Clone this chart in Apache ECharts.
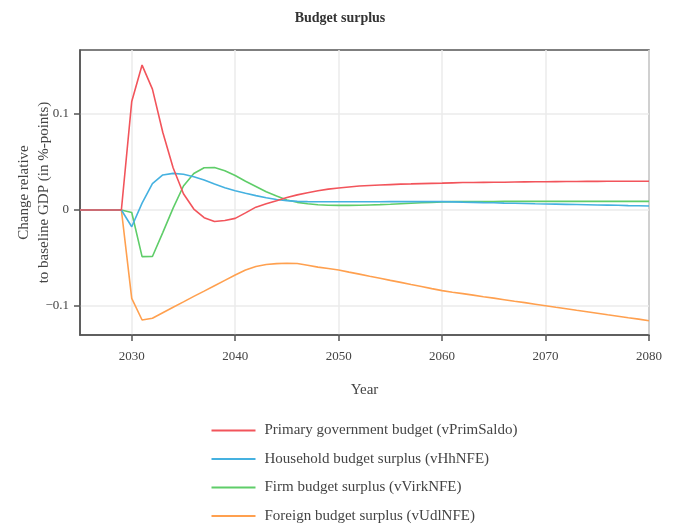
<!DOCTYPE html>
<html>
<head>
<meta charset="utf-8">
<title>Budget surplus</title>
<script src="https://cdn.jsdelivr.net/npm/echarts@6/dist/echarts.min.js"></script>
<style>
  html, body { margin: 0; padding: 0; background: #fff; }
  #chart { width: 680px; height: 527px; }
</style>
</head>
<body>
<div id="chart"></div>
<script>
// Annual model years 2025–2080
const years = [];
for (let y = 2025; y <= 2080; y++) years.push(y);

// Change relative to baseline GDP, %-points
const primSaldo = [
  0, 0, 0, 0, 0,
  0.113, 0.151, 0.126, 0.081, 0.044, 0.017, 0.001, -0.008, -0.012, -0.011,
  -0.0087, -0.003, 0.003, 0.0065, 0.0097, 0.013, 0.0158, 0.018, 0.020, 0.0218,
  0.023, 0.024, 0.025, 0.0255, 0.026, 0.0265, 0.027, 0.0272, 0.0275, 0.0278,
  0.028, 0.0283, 0.0286, 0.0287, 0.0288, 0.0289, 0.029, 0.0292, 0.0293, 0.0294,
  0.0295, 0.0296, 0.0297, 0.0297, 0.0298, 0.0298, 0.0299, 0.0299, 0.0299, 0.03,
  0.03
];
const hhNFE = [
  0, 0, 0, 0, 0,
  -0.0174, 0.0072, 0.0275, 0.0365, 0.0382, 0.0372, 0.0347, 0.0312, 0.027, 0.0233,
  0.0201, 0.0174, 0.015, 0.0128, 0.011, 0.0098, 0.009, 0.0087, 0.0086, 0.0086,
  0.0086, 0.0086, 0.0086, 0.0086, 0.0086, 0.0087, 0.0087, 0.0087, 0.0087, 0.0087,
  0.0087, 0.0085, 0.0082, 0.008, 0.0077, 0.0075, 0.0072, 0.007, 0.0068, 0.0065,
  0.0063, 0.0061, 0.0059, 0.0057, 0.0055, 0.0053, 0.0051, 0.0049, 0.0046, 0.0044,
  0.0042
];
const virkNFE = [
  0, 0, 0, 0, 0,
  -0.0026, -0.0486, -0.0484, -0.0235, 0.002, 0.025, 0.038, 0.0441, 0.0443, 0.041,
  0.036, 0.030, 0.0245, 0.019, 0.0145, 0.0105, 0.008, 0.0065, 0.0055, 0.005,
  0.0048, 0.0048, 0.005, 0.0053, 0.0056, 0.006, 0.0065, 0.007, 0.0075, 0.008,
  0.0085, 0.0087, 0.0088, 0.0088, 0.0089, 0.0089, 0.009, 0.009, 0.009, 0.009,
  0.009, 0.009, 0.009, 0.009, 0.009, 0.009, 0.009, 0.009, 0.009, 0.009,
  0.009
];
const udlNFE = [
  0, 0, 0, 0, 0,
  -0.092, -0.1146, -0.1128, -0.107, -0.1013, -0.0957, -0.090, -0.0845, -0.0789, -0.0733,
  -0.0677, -0.0625, -0.0588, -0.0568, -0.0558, -0.0555, -0.0557, -0.0575, -0.0595, -0.061,
  -0.0625, -0.0647, -0.0668, -0.069, -0.0711, -0.0733, -0.0754, -0.0776, -0.0797, -0.0819,
  -0.084, -0.0856, -0.0871, -0.0887, -0.0903, -0.0918, -0.0934, -0.095, -0.0965, -0.0981,
  -0.0997, -0.1013, -0.1028, -0.1044, -0.1059, -0.1075, -0.1091, -0.1106, -0.1122, -0.1137,
  -0.1153
];

const xTicks = [2030, 2040, 2050, 2060, 2070, 2080];
const yTicks = [-0.1, 0, 0.1];

const seriesNames = [
  'Primary government budget (vPrimSaldo)',
  'Household budget surplus (vHhNFE)',
  'Firm budget surplus (vVirkNFE)',
  'Foreign budget surplus (vUdlNFE)'
];
const seriesValues = [primSaldo, hhNFE, virkNFE, udlNFE];
const colors = ['#F2545B', '#45B1E0', '#5FCD69', '#FFA04F'];

const FONT = '"Liberation Serif", "Times New Roman", serif';
const TEXT = '#444';
const AXIS = '#555';

const chart = echarts.init(document.getElementById('chart'), null, { renderer: 'canvas' });

chart.setOption({
  animation: false,
  backgroundColor: '#fff',
  color: colors,
  textStyle: { fontFamily: FONT },
  title: {
    text: 'Budget surplus',
    left: 'center',
    top: 6,
    textStyle: { fontFamily: FONT, fontSize: 14, fontWeight: 'bold', color: '#333' }
  },
  grid: {
    left: 80, right: 31, top: 50, bottom: 192,
    show: true, borderColor: AXIS, borderWidth: 1.5,
    containLabel: false,
    outerBoundsMode: 'none'
  },
  legend: {
    orient: 'vertical',
    left: 211.5,
    top: 423,
    height: 104,
    padding: 0,
    itemGap: 13.5,
    itemWidth: 44,
    itemHeight: 2,
    icon: 'rect',
    textStyle: { fontFamily: FONT, fontSize: 15, color: TEXT, padding: [0, 0, 0, 4] },
    data: seriesNames
  },
  xAxis: {
    type: 'value',
    min: 2025,
    max: 2080,
    name: 'Year',
    nameLocation: 'middle',
    nameGap: 48,
    nameMoveOverlap: false,
    nameTextStyle: { fontFamily: FONT, fontSize: 15, color: TEXT },
    axisLine: { show: true, onZero: false, lineStyle: { color: AXIS, width: 1.5 } },
    axisTick: { show: true, length: 6, lineStyle: { color: AXIS, width: 1.5 },
      customValues: xTicks },
    axisLabel: {
      fontFamily: FONT, fontSize: 13, color: TEXT, margin: 15,
      customValues: xTicks,
      formatter: v => String(v)
    },
    splitLine: { show: true, lineStyle: { color: '#ebebeb', width: 1.5 } }
  },
  yAxis: {
    type: 'value',
    min: -0.1302,
    max: 0.1667,
    name: 'Change relative\nto baseline GDP (in %-points)',
    nameLocation: 'middle',
    nameRotate: 90,
    nameGap: 26,
    nameMoveOverlap: false,
    nameTextStyle: { fontFamily: FONT, fontSize: 15, color: TEXT, lineHeight: 20 },
    axisLine: { show: true, onZero: false, lineStyle: { color: AXIS, width: 1.5 } },
    axisTick: { show: true, length: 6, lineStyle: { color: AXIS, width: 1.5 },
      customValues: yTicks },
    axisLabel: {
      fontFamily: FONT, fontSize: 13, color: TEXT, margin: 11,
      customValues: yTicks,
      formatter: v => {
        const r = Math.round(v * 10) / 10;
        if (r === 0) return '0';
        return r < 0 ? '\u2212' + Math.abs(r) : String(r);
      }
    },
    splitLine: { show: true, lineStyle: { color: '#ebebeb', width: 1.5 } }
  },
  series: seriesNames.map((name, i) => ({
    name: name,
    type: 'line',
    data: years.map((y, j) => [y, seriesValues[i][j]]),
    showSymbol: false,
    symbol: 'none',
    lineStyle: { width: 1.6, color: colors[i] },
    itemStyle: { color: colors[i] },
    z: 10 - i
  }))
});
</script>
</body>
</html>
